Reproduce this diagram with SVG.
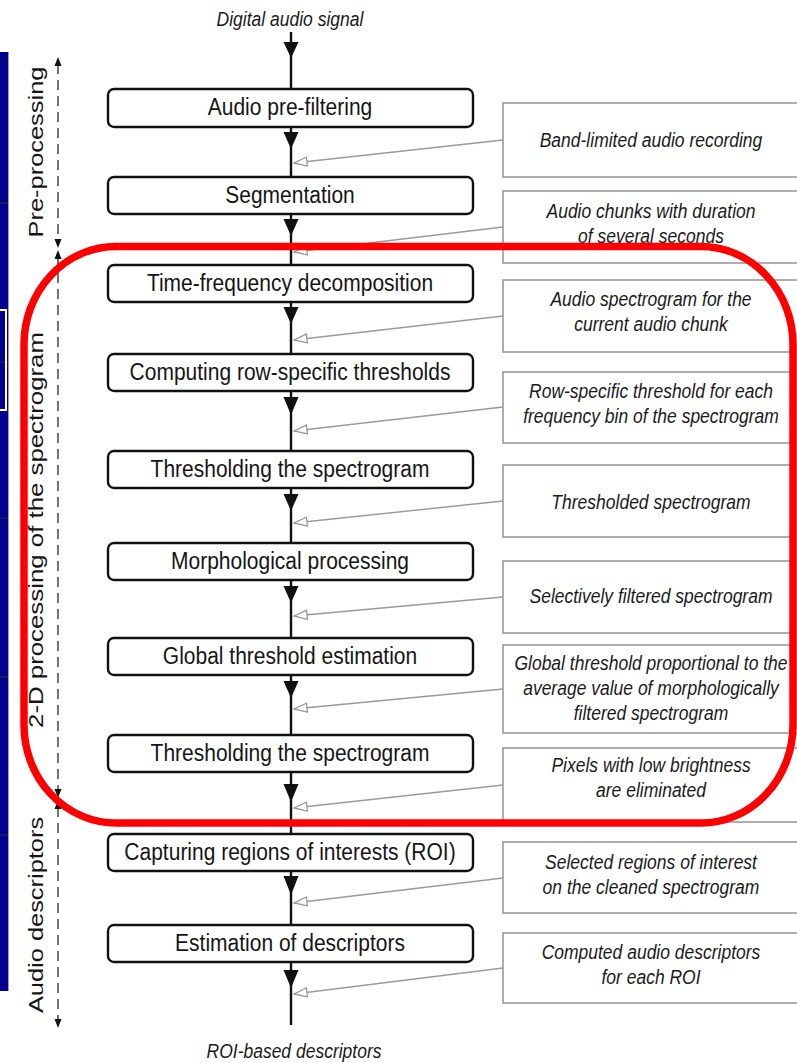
<svg xmlns="http://www.w3.org/2000/svg" width="797" height="1063" viewBox="0 0 797 1063">
  <style>
    .step rect { fill: #ffffff; stroke: #111111; stroke-width: 2.4; }
    .step text { font-family: "Liberation Sans", Arial, sans-serif; font-size: 21px; fill: #151515; text-anchor: middle; }
    .note rect { fill: #ffffff; stroke: #9a9a9a; stroke-width: 1.6; }
    .note text { font-family: "Liberation Sans", Arial, sans-serif; font-size: 17.5px; font-style: italic; fill: #1a1a1a; text-anchor: middle; }
    .io { font-family: "Liberation Sans", Arial, sans-serif; font-size: 17.5px; font-style: italic; fill: #1a1a1a; text-anchor: middle; }
    .stage { font-family: "Liberation Sans", Arial, sans-serif; font-size: 21px; fill: #151515; text-anchor: middle; }
    .flow { stroke: #111111; stroke-width: 2.4; fill: none; }
    .head { fill: #111111; stroke: none; }
    .feed { stroke: #9a9a9a; stroke-width: 1.4; fill: none; marker-end: url(#open); }
    .span { stroke: #444444; stroke-width: 1.5; stroke-dasharray: 10 6; fill: none; }
  </style>
  <defs>
    <marker id="open" markerUnits="userSpaceOnUse" markerWidth="16" markerHeight="12" refX="14" refY="6" orient="auto">
      <path d="M1,1.5 L14,6 L1,10.5 Z" fill="#ffffff" stroke="#9a9a9a" stroke-width="1.3"/>
    </marker>
  </defs>

  <rect width="797" height="1063" fill="#ffffff"/>

  <!-- side strip -->
  <g id="side-strip">
    <rect x="0" y="52" width="8" height="939" fill="#02028c"/>
    <line x1="8.5" y1="52" x2="8.5" y2="991" stroke="#a0a0a0" stroke-width="1"/>
    <g stroke="#2a2a55" stroke-width="1">
      <line x1="0" y1="203" x2="8" y2="203"/>
      <line x1="0" y1="362" x2="8" y2="362"/>
      <line x1="0" y1="518" x2="8" y2="518"/>
      <line x1="0" y1="677" x2="8" y2="677"/>
      <line x1="0" y1="835" x2="8" y2="835"/>
    </g>
    <rect x="-2" y="310" width="8" height="100" fill="none" stroke="#ffffff" stroke-width="2"/>
  </g>

  <!-- stage brackets -->
  <g id="stages">
    <path class="span" d="M58,64 V241"/>
    <path class="head" d="M54.5,66 L58,57 L61.5,66 Z"/>
    <path class="head" d="M54.5,239 L58,248 L61.5,239 Z"/>
    <text class="stage" transform="translate(43,152) scale(1,1.21) rotate(-90)">Pre-processing</text>

    <path class="span" d="M58,257 V791"/>
    <path class="head" d="M54.5,259 L58,250 L61.5,259 Z"/>
    <path class="head" d="M54.5,789 L58,798 L61.5,789 Z"/>
    <text class="stage" transform="translate(43,530) scale(1,1.23) rotate(-90)">2-D processing of the spectrogram</text>

    <path class="span" d="M58,807 V1021"/>
    <path class="head" d="M54.5,809 L58,800 L61.5,809 Z"/>
    <path class="head" d="M54.5,1019 L58,1028 L61.5,1019 Z"/>
    <text class="stage" transform="translate(43,915) scale(1,1.21) rotate(-90)">Audio descriptors</text>
  </g>

  <!-- main flow connectors -->
  <g id="connectors">
    <path class="flow" d="M291,32 V89 M291,127 V177 M291,214 V265 M291,302 V354 M291,391 V451 M291,488 V543 M291,580 V638 M291,675 V735 M291,772 V834 M291,871 V925 M291,962 V1025"/>
    <path class="head" d="M283.5,42 L298.5,42 L291,58 Z"/>
    <path class="head" d="M283.5,132 L298.5,132 L291,149 Z"/>
    <path class="head" d="M283.5,219 L298.5,219 L291,236 Z"/>
    <path class="head" d="M283.5,307 L298.5,307 L291,324 Z"/>
    <path class="head" d="M283.5,397 L298.5,397 L291,415 Z"/>
    <path class="head" d="M283.5,494 L298.5,494 L291,511 Z"/>
    <path class="head" d="M283.5,586 L298.5,586 L291,603 Z"/>
    <path class="head" d="M283.5,681 L298.5,681 L291,698 Z"/>
    <path class="head" d="M283.5,784 L298.5,784 L291,802 Z"/>
    <path class="head" d="M283.5,876 L298.5,876 L291,895 Z"/>
    <path class="head" d="M283.5,970 L298.5,970 L291,988 Z"/>

    <path class="feed" d="M503,140 L294,163"/>
    <path class="feed" d="M503,227 L294,252"/>
    <path class="feed" d="M503,316 L294,340"/>
    <path class="feed" d="M503,407 L294,431"/>
    <path class="feed" d="M503,501 L294,523"/>
    <path class="feed" d="M503,597 L294,616"/>
    <path class="feed" d="M503,689 L294,709"/>
    <path class="feed" d="M503,785 L294,808"/>
    <path class="feed" d="M503,878 L294,903"/>
    <path class="feed" d="M503,968 L294,994"/>
  </g>

  <!-- input / output labels -->
  <text class="io" transform="translate(290,26) scale(1,1.15)">Digital audio signal</text>
  <text class="io" transform="translate(294,1058) scale(1,1.15)">ROI-based descriptors</text>

  <!-- processing steps -->
  <g id="step-prefilter" class="step">
    <rect x="108" y="89" width="365" height="38" rx="6"/>
    <text transform="translate(290,115) scale(1,1.12)">Audio pre-filtering</text>
  </g>
  <g id="step-segmentation" class="step">
    <rect x="108" y="177" width="365" height="37" rx="6"/>
    <text transform="translate(290,203) scale(1,1.12)">Segmentation</text>
  </g>
  <g id="step-tf" class="step">
    <rect x="108" y="265" width="365" height="37" rx="6"/>
    <text transform="translate(290,291) scale(1,1.12)">Time-frequency decomposition</text>
  </g>
  <g id="step-row-thresholds" class="step">
    <rect x="108" y="354" width="365" height="37" rx="6"/>
    <text transform="translate(290,380) scale(1,1.12)">Computing row-specific thresholds</text>
  </g>
  <g id="step-threshold-1" class="step">
    <rect x="108" y="451" width="365" height="37" rx="6"/>
    <text transform="translate(290,477) scale(1,1.12)">Thresholding the spectrogram</text>
  </g>
  <g id="step-morphology" class="step">
    <rect x="108" y="543" width="365" height="37" rx="6"/>
    <text transform="translate(290,569) scale(1,1.12)">Morphological processing</text>
  </g>
  <g id="step-global" class="step">
    <rect x="108" y="638" width="365" height="37" rx="6"/>
    <text transform="translate(290,664) scale(1,1.12)">Global threshold estimation</text>
  </g>
  <g id="step-threshold-2" class="step">
    <rect x="108" y="735" width="365" height="37" rx="6"/>
    <text transform="translate(290,761) scale(1,1.12)">Thresholding the spectrogram</text>
  </g>
  <g id="step-roi" class="step">
    <rect x="108" y="834" width="365" height="37" rx="6"/>
    <text transform="translate(290,860) scale(1,1.12)">Capturing regions of interests (ROI)</text>
  </g>
  <g id="step-descriptors" class="step">
    <rect x="108" y="925" width="365" height="37" rx="6"/>
    <text transform="translate(290,951) scale(1,1.12)">Estimation of descriptors</text>
  </g>

  <!-- intermediate results -->
  <g id="note-band-limited" class="note">
    <rect x="503" y="103" width="300" height="74"/>
    <text transform="translate(651,147) scale(1,1.15)">Band-limited audio recording</text>
  </g>
  <g id="note-chunks" class="note">
    <rect x="503" y="191" width="300" height="72"/>
    <text transform="translate(651,218) scale(1,1.15)">Audio chunks with duration</text>
    <text transform="translate(651,243) scale(1,1.15)">of several seconds</text>
  </g>
  <g id="note-spectrogram" class="note">
    <rect x="503" y="280" width="300" height="72"/>
    <text transform="translate(651,306) scale(1,1.15)">Audio spectrogram for the</text>
    <text transform="translate(651,331) scale(1,1.15)">current audio chunk</text>
  </g>
  <g id="note-row-thresholds" class="note">
    <rect x="503" y="372" width="300" height="71"/>
    <text transform="translate(651,398) scale(1,1.15)">Row-specific threshold for each</text>
    <text transform="translate(651,423) scale(1,1.15)">frequency bin of the spectrogram</text>
  </g>
  <g id="note-thresholded" class="note">
    <rect x="503" y="465" width="300" height="72"/>
    <text transform="translate(651,509) scale(1,1.15)">Thresholded spectrogram</text>
  </g>
  <g id="note-filtered" class="note">
    <rect x="503" y="561" width="300" height="72"/>
    <text transform="translate(651,603) scale(1,1.15)">Selectively filtered spectrogram</text>
  </g>
  <g id="note-global" class="note">
    <rect x="503" y="645" width="300" height="88"/>
    <text transform="translate(651,670) scale(1,1.15)">Global threshold proportional to the</text>
    <text transform="translate(651,695) scale(1,1.15)">average value of morphologically</text>
    <text transform="translate(651,720) scale(1,1.15)">filtered spectrogram</text>
  </g>
  <g id="note-pixels" class="note">
    <rect x="503" y="748" width="300" height="74"/>
    <text transform="translate(651,772) scale(1,1.15)">Pixels with low brightness</text>
    <text transform="translate(651,797) scale(1,1.15)">are eliminated</text>
  </g>
  <g id="note-roi" class="note">
    <rect x="503" y="842" width="300" height="71"/>
    <text transform="translate(651,869) scale(1,1.15)">Selected regions of interest</text>
    <text transform="translate(651,894) scale(1,1.15)">on the cleaned spectrogram</text>
  </g>
  <g id="note-descriptors" class="note">
    <rect x="503" y="933" width="300" height="70"/>
    <text transform="translate(651,959) scale(1,1.15)">Computed audio descriptors</text>
    <text transform="translate(651,984) scale(1,1.15)">for each ROI</text>
  </g>

  <!-- highlight around the spectrogram stage -->
  <rect id="highlight" x="24" y="246.5" width="769" height="576.5" rx="92" ry="98" fill="none" stroke="#ff0000" stroke-width="7.5"/>
</svg>
